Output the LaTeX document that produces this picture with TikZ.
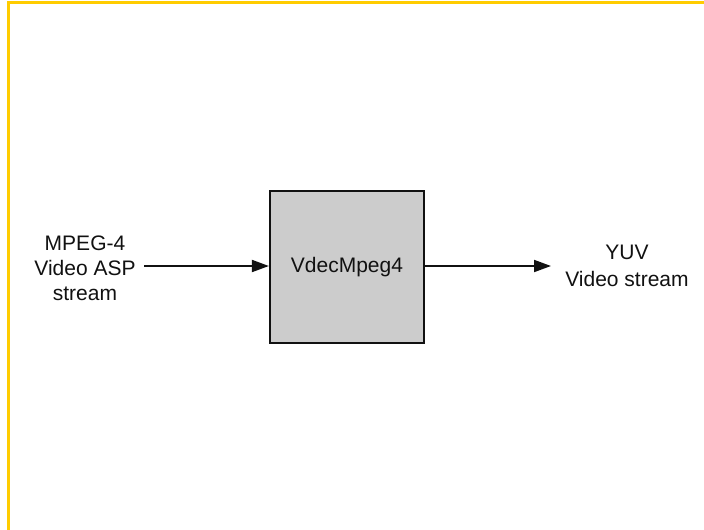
\documentclass[tikz,border=0pt]{standalone}
\usepackage{fontspec}
\setmainfont{Liberation Sans}
\usetikzlibrary{arrows.meta}
\definecolor{frameyellow}{HTML}{FFCC00}
\definecolor{boxgray}{HTML}{CCCCCC}
\definecolor{linedark}{HTML}{111111}
\begin{document}
\begin{tikzpicture}[x=1pt,y=-1pt,
  lbl/.style={align=center,text=linedark,inner sep=0pt},
  block/.style={draw=linedark,line width=2.2pt,fill=boxgray,minimum width=154pt,minimum height=152pt,inner sep=0pt,font=\fontsize{21}{25}\selectfont,text=linedark},
  flow/.style={draw=linedark,line width=1.9pt,-{Triangle[length=17pt,width=12pt]}},
  frameline/.style={draw=frameyellow,line width=3pt}]
\useasboundingbox (0,0) rectangle (704,530);
\fill[white] (0,0) rectangle (704,530);
\coordinate (ftl) at (8,2);
\coordinate (ftr) at (704,2);
\coordinate (fbl) at (8,530);
\draw[frameline] (ftr) -- (ftl) -- (fbl);
\node[block] (dec) at (347,267) {VdecMpeg4};
\node[lbl,font=\fontsize{21}{25}\selectfont] (in) at (85,268) {MPEG-4\\Video ASP\\stream};
\node[lbl,font=\fontsize{21}{27}\selectfont] (out) at (627,266) {YUV\\Video stream};
\coordinate (inS) at (144,266);
\coordinate (outE) at (551,266);
\draw[flow] (inS) -- (dec.west |- inS);
\draw[flow] (dec.east |- outE) -- (outE);
\end{tikzpicture}
\end{document}
